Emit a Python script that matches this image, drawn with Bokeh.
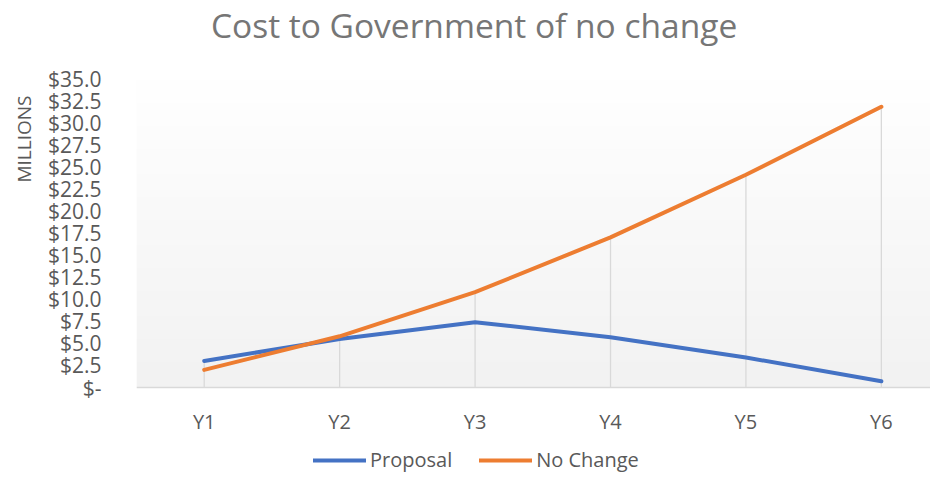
import numpy as np
from bokeh.plotting import figure
from bokeh.models import FixedTicker, Legend, LegendItem, Range1d, Title, Label
from bokeh.embed import file_html
from bokeh.resources import INLINE

# ---- data ----
categories = ["Y1", "Y2", "Y3", "Y4", "Y5", "Y6"]
proposal = [3.0, 5.5, 7.4, 5.7, 3.4, 0.7]
no_change = [2.0, 5.8, 10.8, 17.0, 24.1, 31.8]
y_ticks = [0, 2.5, 5, 7.5, 10, 12.5, 15, 17.5, 20, 22.5, 25, 27.5, 30, 32.5, 35]
y_tick_labels = ["$-", "$2.5", "$5.0", "$7.5", "$10.0", "$12.5", "$15.0", "$17.5",
                 "$20.0", "$22.5", "$25.0", "$27.5", "$30.0", "$32.5", "$35.0"]
title_text = "Cost to Government of no change"
y_label = "MILLIONS"
series_names = ["Proposal", "No Change"]

FONT = "Open Sans"
TXT = "#595959"
BLUE = "#4472C4"
ORANGE = "#ED7D31"

W, H = 930, 475
LEFT = 135                # frame left edge (px)
AX_Y, TOP_Y = 387, 78     # pixel rows of value 0 and of value 35
xs = list(range(1, len(categories) + 1))
cat_px = 135.6
x0 = 0.5
x1 = x0 + (W - LEFT) / cat_px
y_max = y_ticks[-1]
ppu = (AX_Y - TOP_Y) / y_max
y_lo = -(H - AX_Y) / ppu
y_hi = y_max + TOP_Y / ppu

p = figure(width=W, height=H, output_backend="svg", toolbar_location=None,
           x_range=Range1d(x0, x1), y_range=Range1d(y_lo, y_hi),
           min_border_left=LEFT, min_border_right=0, min_border_top=0, min_border_bottom=0)
p.outline_line_color = None
p.background_fill_color = "white"
p.border_fill_color = "white"
p.xgrid.visible = False
p.ygrid.visible = False

# gradient plot-area background (white top -> light grey bottom)
n = 200
shade = np.linspace(242, 255, n).astype(np.uint32)
img = np.zeros((n, 1), dtype=np.uint32)
img[:, 0] = (255 << 24) | (shade << 16) | (shade << 8) | shade
p.image_rgba(image=[img], x=x0, y=0, dw=x1 - x0, dh=y_max)

# drop lines from highest series to axis
tops = [max(a, b) for a, b in zip(proposal, no_change)]
p.segment(x0=xs, y0=[0] * len(xs), x1=xs, y1=tops, line_color="#d9d9d9", line_width=1.3)

r1 = p.line(xs, proposal, line_color=BLUE, line_width=4, line_cap="round", line_join="round")
r2 = p.line(xs, no_change, line_color=ORANGE, line_width=4, line_cap="round", line_join="round")

# chart title
p.add_layout(Label(x=x0 + (473 - LEFT) / cat_px, y=y_max + (TOP_Y - 24) / ppu,
                   text=title_text, text_align="center", text_baseline="middle",
                   text_font=FONT, text_font_size="33.5px", text_color="#767676"))

# y axis
p.yaxis.ticker = FixedTicker(ticks=y_ticks)
p.yaxis.major_label_overrides = {float(t): l for t, l in zip(y_ticks, y_tick_labels)}
p.yaxis.axis_line_color = None
p.yaxis.major_tick_line_color = None
p.yaxis.minor_tick_line_color = None
p.yaxis.major_label_standoff = 29
p.yaxis.major_label_text_font = FONT
p.yaxis.major_label_text_font_size = "21px"
p.yaxis.major_label_text_color = TXT

# x axis drawn at value 0
p.xaxis.fixed_location = 0
p.xaxis.ticker = FixedTicker(ticks=xs)
p.xaxis.major_label_overrides = {float(x): c for x, c in zip(xs, categories)}
p.xaxis.axis_line_color = "#d9d9d9"
p.xaxis.axis_line_width = 1.5
p.xaxis.major_tick_line_color = None
p.xaxis.minor_tick_line_color = None
p.xaxis.major_label_standoff = 14
p.xaxis.major_label_text_font = FONT
p.xaxis.major_label_text_font_size = "20px"
p.xaxis.major_label_text_color = TXT

# y axis title on the left side, near the top
p.add_layout(Title(text=y_label, align="right", offset=95, text_font=FONT,
                   text_font_size="19px", text_font_style="normal", text_color=TXT,
                   standoff=16), "left")

legend = Legend(items=[LegendItem(label=series_names[0], renderers=[r1]),
                       LegendItem(label=series_names[1], renderers=[r2])],
                orientation="horizontal", location=(177, 2),
                glyph_width=53, glyph_height=20, label_standoff=4, spacing=27,
                padding=0, margin=0, border_line_color=None, background_fill_alpha=0,
                label_text_font=FONT, label_text_font_size="20px", label_text_color=TXT,
                label_height=20)
p.add_layout(legend, "center")

open("out.html", "w").write(file_html(p, INLINE))
